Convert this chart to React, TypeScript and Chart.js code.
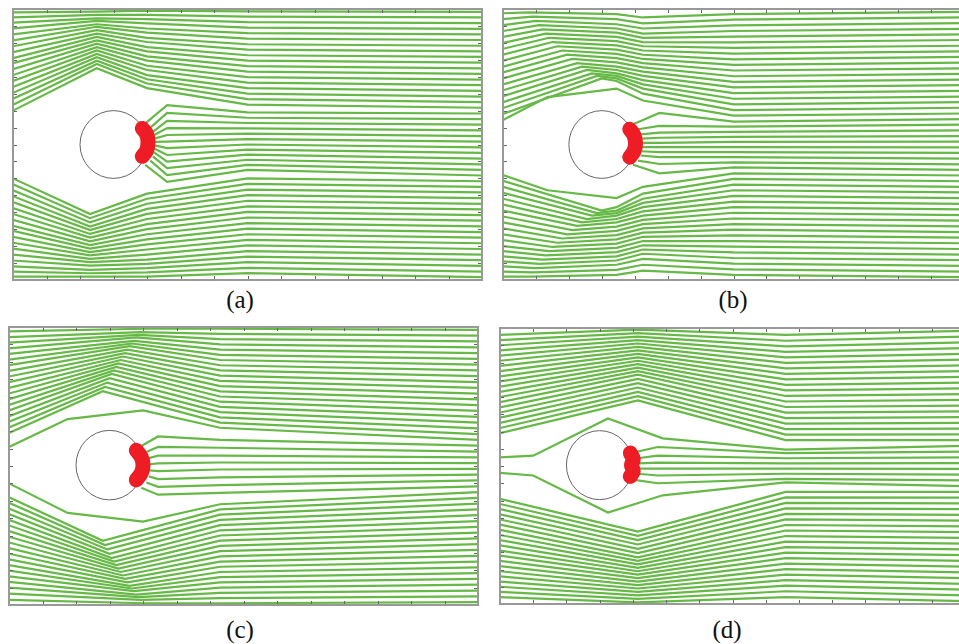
import React, { useEffect, useRef } from "react";
import { Chart, registerables } from "chart.js";
Chart.register(...registerables);

// ---------- shared ----------
const X_TICKS = [0, 2, 4, 6, 8, 10, 12, 14, 16, 18, 20, 22, 24, 26, 28];
const Y_TICKS = [0, 1, 2, 3, 4, 5, 6, 7, 8, 9, 10, 11, 12, 13, 14, 15, 16];
const GREEN = "#66b946";
const RED = "#ee1d25";
const CIRCLE_R = 2;

// ---------- panel (a) ----------
const A_TOP_XS = [0, 5.0, 8.0, 14, 28];
const A_TOP_Y0 = [10.0, 10.35, 10.7, 11.05, 11.4, 11.75, 12.1, 12.45, 12.8, 13.1, 13.45, 13.8, 14.15, 14.5, 14.85, 15.2, 15.5, 15.8];
const A_TOP_Y1 = [12.5, 12.75, 12.95, 13.15, 13.35, 13.55, 13.75, 13.95, 14.15, 14.35, 14.55, 14.75, 14.95, 15.1, 15.3, 15.45, 15.65, 15.85];
const A_TOP_Y2 = [11.33, 11.6, 11.85, 12.1, 12.4, 12.65, 12.95, 13.2, 13.5, 13.75, 14.05, 14.3, 14.6, 14.85, 15.15, 15.4, 15.65, 15.9];
const A_TOP_Y3 = [10.35, 10.68, 11.0, 11.33, 11.65, 11.98, 12.3, 12.63, 12.95, 13.27, 13.6, 13.92, 14.25, 14.57, 14.9, 15.22, 15.55, 15.86];
const A_TOP_Y4 = [10.17, 10.5, 10.83, 11.17, 11.5, 11.83, 12.17, 12.5, 12.83, 13.17, 13.5, 13.83, 14.17, 14.5, 14.83, 15.17, 15.5, 15.83];
const A_BOT_XS = [0, 4.6, 8.0, 14, 28];
const A_BOT_Y0 = [6.0, 5.65, 5.3, 4.95, 4.6, 4.25, 3.9, 3.55, 3.2, 2.9, 2.55, 2.2, 1.85, 1.5, 1.15, 0.8, 0.5, 0.2];
const A_BOT_Y1 = [3.9, 3.65, 3.4, 3.15, 2.95, 2.72, 2.5, 2.28, 2.06, 1.85, 1.65, 1.45, 1.25, 1.05, 0.85, 0.6, 0.4, 0.2];
const A_BOT_Y2 = [5.1, 4.8, 4.5, 4.2, 3.9, 3.6, 3.3, 3.0, 2.7, 2.4, 2.1, 1.8, 1.5, 1.2, 0.95, 0.7, 0.45, 0.2];
const A_BOT_Y3 = [6.0, 5.67, 5.34, 5.01, 4.68, 4.35, 4.02, 3.69, 3.36, 3.03, 2.7, 2.37, 2.04, 1.71, 1.38, 1.05, 0.72, 0.4];
const A_BOT_Y4 = [5.83, 5.5, 5.17, 4.83, 4.5, 4.17, 3.83, 3.5, 3.17, 2.83, 2.5, 2.17, 1.83, 1.5, 1.17, 0.83, 0.5, 0.17];
const A_FAN_X0 = [7.9, 8.2, 8.35, 8.4, 8.45, 8.45, 8.45, 8.45, 8.4, 8.35, 8.2, 7.9];
const A_FAN_XS = [A_FAN_X0, 9.2, 14, 28];
const A_FAN_Y0 = [9.25, 9.0, 8.75, 8.55, 8.35, 8.15, 7.95, 7.75, 7.55, 7.3, 7.05, 6.8];
const A_FAN_Y1 = [10.33, 9.86, 9.4, 8.97, 8.56, 8.17, 7.79, 7.38, 6.99, 6.61, 6.2, 5.8];
const A_FAN_Y2 = [9.9, 9.58, 9.27, 8.95, 8.64, 8.32, 8.0, 7.7, 7.4, 7.1, 6.8, 6.5];
const A_FAN_Y3 = [9.83, 9.5, 9.17, 8.83, 8.5, 8.17, 7.83, 7.5, 7.17, 6.83, 6.5, 6.17];
const A_BLOB_X = [7.72, 7.98, 8.06, 7.98, 7.72];
const A_BLOB_Y = [8.95, 8.6, 8.12, 7.65, 7.3];

// ---------- panel (b) ----------
const B_X1 = [2.7, 6.0, 5.7, 5.4, 5.1, 4.8, 4.5, 4.2, 3.9, 3.6, 3.3, 3.0, 2.8, 2.6, 2.4, 2.2, 2.0, 1.8, 1.6];
const B_XS = [0, B_X1, 6.9, 8.5, 14, 28];
const B_TOP_Y0 = [9.45, 9.8, 10.15, 10.5, 10.85, 11.2, 11.55, 11.9, 12.25, 12.6, 12.95, 13.3, 13.65, 14.0, 14.35, 14.7, 15.05, 15.4, 15.75];
const B_TOP_Y1 = [10.8, 11.9, 12.05, 12.2, 12.4, 12.6, 12.8, 13.05, 13.3, 13.55, 13.8, 14.05, 14.3, 14.55, 14.8, 15.05, 15.3, 15.55, 15.8];
const B_TOP_Y2 = [11.3, 11.75, 11.9, 12.05, 12.2, 12.4, 12.6, 12.85, 13.1, 13.35, 13.6, 13.85, 14.1, 14.35, 14.6, 14.85, 15.1, 15.4, 15.7];
const B_TOP_Y3 = [10.6, 11.0, 11.3, 11.55, 11.8, 12.05, 12.3, 12.55, 12.8, 13.05, 13.3, 13.55, 13.8, 14.05, 14.3, 14.55, 14.85, 15.15, 15.5];
const B_TOP_Y4 = [9.7, 10.03, 10.37, 10.7, 11.03, 11.37, 11.7, 12.03, 12.37, 12.7, 13.03, 13.37, 13.7, 14.03, 14.37, 14.7, 15.03, 15.37, 15.7];
const B_TOP_Y5 = [9.83, 10.17, 10.5, 10.83, 11.17, 11.5, 11.83, 12.17, 12.5, 12.83, 13.17, 13.5, 13.83, 14.17, 14.5, 14.83, 15.17, 15.5, 15.83];
const B_BOT_Y0 = [6.2, 5.85, 5.5, 5.15, 4.8, 4.45, 4.1, 3.75, 3.4, 3.05, 2.7, 2.35, 2.0, 1.7, 1.4, 1.1, 0.8, 0.5, 0.2];
const B_BOT_Y1 = [5.3, 4.1, 3.95, 3.8, 3.6, 3.4, 3.2, 2.95, 2.7, 2.45, 2.2, 1.95, 1.7, 1.45, 1.2, 0.95, 0.7, 0.45, 0.2];
const B_BOT_Y2 = [4.84, 4.3, 4.1, 3.95, 3.8, 3.6, 3.4, 3.15, 2.9, 2.65, 2.4, 2.15, 1.9, 1.65, 1.4, 1.15, 0.9, 0.6, 0.3];
const B_BOT_Y3 = [5.5, 5.1, 4.8, 4.55, 4.3, 4.05, 3.8, 3.55, 3.3, 3.05, 2.8, 2.55, 2.3, 2.05, 1.8, 1.55, 1.25, 0.9, 0.55];
const B_BOT_Y4 = [6.3, 5.97, 5.63, 5.3, 4.97, 4.63, 4.3, 3.97, 3.63, 3.3, 2.97, 2.63, 2.3, 1.97, 1.63, 1.3, 0.97, 0.63, 0.3];
const B_BOT_Y5 = [6.17, 5.83, 5.5, 5.17, 4.83, 4.5, 4.17, 3.83, 3.5, 3.17, 2.83, 2.5, 2.17, 1.83, 1.5, 1.17, 0.83, 0.5, 0.17];
const B_FAN_X0 = [7.9, 8.2, 8.35, 8.4, 8.45, 8.45, 8.4, 8.35, 8.2, 7.9];
const B_FAN_XS = [B_FAN_X0, 9.5, 14, 28];
const B_FAN_Y0 = [9.2, 8.9, 8.6, 8.35, 8.1, 7.85, 7.6, 7.35, 7.05, 6.8];
const B_FAN_Y1 = [9.86, 9.1, 8.7, 8.4, 8.1, 7.85, 7.55, 7.25, 6.85, 6.3];
const B_FAN_Y2 = [9.35, 9.05, 8.75, 8.45, 8.15, 7.85, 7.55, 7.25, 6.95, 6.65];
const B_FAN_Y3 = [9.5, 9.17, 8.83, 8.5, 8.17, 7.83, 7.5, 7.17, 6.83, 6.5];
const B_BLOB_X = [7.7, 7.95, 8.05, 7.95, 7.7];
const B_BLOB_Y = [8.9, 8.55, 8.05, 7.6, 7.25];

// ---------- panel (c) ----------
const C_X1 = [5.6, 5.73, 5.87, 6.0, 6.13, 6.27, 6.4, 6.53, 6.67, 6.8, 6.93, 7.07, 7.2, 7.33, 7.47, 7.6, 7.73, 7.87, 8.0];
const C_XS = [0, C_X1, 12.6, 28];
const C_TOP_Y0 = [9.9, 10.22, 10.55, 10.87, 11.2, 11.52, 11.85, 12.17, 12.5, 12.82, 13.15, 13.47, 13.8, 14.12, 14.45, 14.77, 15.1, 15.42, 15.75];
const C_TOP_Y1 = [12.3, 12.55, 12.8, 13.05, 13.3, 13.5, 13.7, 13.9, 14.1, 14.3, 14.5, 14.7, 14.9, 15.05, 15.2, 15.4, 15.55, 15.7, 15.9];
const C_TOP_Y2 = [10.5, 10.8, 11.1, 11.4, 11.7, 12.0, 12.3, 12.6, 12.9, 13.2, 13.5, 13.8, 14.1, 14.4, 14.7, 15.0, 15.3, 15.6, 15.9];
const C_TOP_Y3 = [9.83, 10.17, 10.5, 10.83, 11.17, 11.5, 11.83, 12.17, 12.5, 12.83, 13.17, 13.5, 13.83, 14.17, 14.5, 14.83, 15.17, 15.5, 15.83];
const C_BOT_Y0 = [6.2, 5.88, 5.55, 5.23, 4.9, 4.58, 4.25, 3.93, 3.6, 3.28, 2.95, 2.63, 2.3, 1.98, 1.65, 1.33, 1.0, 0.65, 0.3];
const C_BOT_Y1 = [3.7, 3.45, 3.2, 2.95, 2.7, 2.5, 2.3, 2.1, 1.9, 1.7, 1.5, 1.3, 1.1, 0.95, 0.8, 0.6, 0.45, 0.3, 0.1];
const C_BOT_Y2 = [5.5, 5.2, 4.9, 4.6, 4.3, 4.0, 3.7, 3.4, 3.1, 2.8, 2.5, 2.2, 1.9, 1.6, 1.3, 1.0, 0.7, 0.4, 0.1];
const C_BOT_Y3 = [6.17, 5.83, 5.5, 5.17, 4.83, 4.5, 4.17, 3.83, 3.5, 3.17, 2.83, 2.5, 2.17, 1.83, 1.5, 1.17, 0.83, 0.5, 0.17];
const C_FAN_X0 = [7.9, 8.2, 8.35, 8.4, 8.4, 8.35, 8.2, 7.9];
const C_FAN_XS = [C_FAN_X0, 8.9, 12.6, 28];
const C_FAN_Y0 = [9.15, 8.8, 8.45, 8.1, 7.75, 7.4, 7.05, 6.75];
const C_FAN_Y1 = [9.7, 9.1, 8.6, 8.15, 7.7, 7.25, 6.8, 6.35];
const C_FAN_Y2 = [9.5, 9.05, 8.6, 8.2, 7.8, 7.35, 6.9, 6.45];
const C_FAN_Y3 = [9.17, 8.83, 8.5, 8.17, 7.83, 7.5, 7.17, 6.83];
const C_EDGE_X = [0, 3.5, 8.0, 12.6, 28];
const C_EDGE_TOP = [9.1, 10.7, 11.2, 10.2, 9.5];
const C_EDGE_BOT = [7.0, 5.3, 4.8, 5.8, 6.5];
const C_BLOB_X = [7.6, 7.9, 8.0, 7.9, 7.6];
const C_BLOB_Y = [8.9, 8.5, 8.05, 7.6, 7.2];

// ---------- panel (d) ----------
const D_XS = [0, 8.3, 17.2, 28];
const D_TOP_Y0 = [9.9, 10.2, 10.5, 10.8, 11.1, 11.4, 11.7, 12.0, 12.3, 12.6, 12.9, 13.2, 13.5, 13.8, 14.1, 14.4, 14.7, 15.0, 15.3, 15.6];
const D_TOP_Y1 = [11.8, 12.05, 12.3, 12.55, 12.8, 13.05, 13.3, 13.5, 13.7, 13.9, 14.1, 14.3, 14.5, 14.7, 14.9, 15.1, 15.3, 15.5, 15.7, 15.9];
const D_TOP_Y2 = [9.5, 9.82, 10.14, 10.46, 10.78, 11.1, 11.42, 11.74, 12.06, 12.38, 12.7, 13.02, 13.34, 13.66, 13.98, 14.3, 14.62, 14.94, 15.26, 15.6];
const D_TOP_Y3 = [9.5, 9.83, 10.17, 10.5, 10.83, 11.17, 11.5, 11.83, 12.17, 12.5, 12.83, 13.17, 13.5, 13.83, 14.17, 14.5, 14.83, 15.17, 15.5, 15.83];
const D_BOT_Y0 = [6.1, 5.8, 5.5, 5.2, 4.9, 4.6, 4.3, 4.0, 3.7, 3.4, 3.1, 2.8, 2.5, 2.2, 1.9, 1.6, 1.3, 1.0, 0.7, 0.4];
const D_BOT_Y1 = [4.2, 3.95, 3.7, 3.45, 3.2, 2.95, 2.7, 2.5, 2.3, 2.1, 1.9, 1.7, 1.5, 1.3, 1.1, 0.9, 0.7, 0.5, 0.3, 0.1];
const D_BOT_Y2 = [6.5, 6.18, 5.86, 5.54, 5.22, 4.9, 4.58, 4.26, 3.94, 3.62, 3.3, 2.98, 2.66, 2.34, 2.02, 1.7, 1.38, 1.06, 0.74, 0.4];
const D_BOT_Y3 = [6.5, 6.17, 5.83, 5.5, 5.17, 4.83, 4.5, 4.17, 3.83, 3.5, 3.17, 2.83, 2.5, 2.17, 1.83, 1.5, 1.17, 0.83, 0.5, 0.17];
const D_FAN_X0 = [8.1, 8.3, 8.35, 8.35, 8.3, 8.1];
const D_FAN_XS = [D_FAN_X0, 9.5, 17.2, 28];
const D_FAN_Y0 = [8.8, 8.45, 8.15, 7.85, 7.55, 7.2];
const D_FAN_Y1 = [9.1, 8.6, 8.2, 7.85, 7.45, 7.0];
const D_FAN_Y2 = [8.75, 8.45, 8.15, 7.85, 7.55, 7.25];
const D_FAN_Y3 = [8.83, 8.5, 8.17, 7.83, 7.5, 7.17];
const D_EDGE_X = [0, 2.0, 6.5, 9.8, 17.2, 28];
const D_EDGE_TOP = [8.5, 8.6, 10.75, 9.6, 8.95, 9.17];
const D_EDGE_BOT = [7.6, 7.45, 5.3, 6.3, 7.05, 6.83];
const D_BLOB_X = [7.85, 8.02, 7.92, 8.02, 7.85];
const D_BLOB_Y = [8.75, 8.4, 8.05, 7.7, 7.4];

type Knot = number | number[];
interface Group { xs: Knot[]; ys: number[][] }
interface Panel {
  left: number; top: number; w: number; h: number;
  groups: Group[]; edges: { x: number[]; y: number[] }[];
  blobX: number[]; blobY: number[]; blobDots: number;
  cy: number; label: string; labelX: number; labelY: number;
}

const PANELS: Panel[] = [
  {
    left: 13, top: 9, w: 469, h: 271, cy: 8,
    groups: [
      { xs: A_TOP_XS, ys: [A_TOP_Y0, A_TOP_Y1, A_TOP_Y2, A_TOP_Y3, A_TOP_Y4] },
      { xs: A_BOT_XS, ys: [A_BOT_Y0, A_BOT_Y1, A_BOT_Y2, A_BOT_Y3, A_BOT_Y4] },
      { xs: A_FAN_XS, ys: [A_FAN_Y0, A_FAN_Y1, A_FAN_Y2, A_FAN_Y3] },
    ],
    edges: [], blobX: A_BLOB_X, blobY: A_BLOB_Y, blobDots: 0,
    label: "(a)", labelX: 240, labelY: 286,
  },
  {
    left: 503, top: 9, w: 461, h: 271, cy: 8,
    groups: [
      { xs: B_XS, ys: [B_TOP_Y0, B_TOP_Y1, B_TOP_Y2, B_TOP_Y3, B_TOP_Y4, B_TOP_Y5] },
      { xs: B_XS, ys: [B_BOT_Y0, B_BOT_Y1, B_BOT_Y2, B_BOT_Y3, B_BOT_Y4, B_BOT_Y5] },
      { xs: B_FAN_XS, ys: [B_FAN_Y0, B_FAN_Y1, B_FAN_Y2, B_FAN_Y3] },
    ],
    edges: [], blobX: B_BLOB_X, blobY: B_BLOB_Y, blobDots: 0,
    label: "(b)", labelX: 733, labelY: 286,
  },
  {
    left: 9, top: 327, w: 469, h: 278, cy: 8.05,
    groups: [
      { xs: C_XS, ys: [C_TOP_Y0, C_TOP_Y1, C_TOP_Y2, C_TOP_Y3] },
      { xs: C_XS, ys: [C_BOT_Y0, C_BOT_Y1, C_BOT_Y2, C_BOT_Y3] },
      { xs: C_FAN_XS, ys: [C_FAN_Y0, C_FAN_Y1, C_FAN_Y2, C_FAN_Y3] },
    ],
    edges: [{ x: C_EDGE_X, y: C_EDGE_TOP }, { x: C_EDGE_X, y: C_EDGE_BOT }],
    blobX: C_BLOB_X, blobY: C_BLOB_Y, blobDots: 0,
    label: "(c)", labelX: 240, labelY: 616,
  },
  {
    left: 499, top: 327, w: 467, h: 278, cy: 8.05,
    groups: [
      { xs: D_XS, ys: [D_TOP_Y0, D_TOP_Y1, D_TOP_Y2, D_TOP_Y3] },
      { xs: D_XS, ys: [D_BOT_Y0, D_BOT_Y1, D_BOT_Y2, D_BOT_Y3] },
      { xs: D_FAN_XS, ys: [D_FAN_Y0, D_FAN_Y1, D_FAN_Y2, D_FAN_Y3] },
    ],
    edges: [{ x: D_EDGE_X, y: D_EDGE_TOP }, { x: D_EDGE_X, y: D_EDGE_BOT }],
    blobX: D_BLOB_X, blobY: D_BLOB_Y, blobDots: 7,
    label: "(d)", labelX: 727, labelY: 616,
  },
];

const PAD = 6;

function buildLines(g: Group) {
  const n = g.ys[0].length;
  const out: { x: number; y: number }[][] = [];
  for (let i = 0; i < n; i++) {
    out.push(g.xs.map((xk, k) => ({ x: Array.isArray(xk) ? xk[i] : xk, y: g.ys[k][i] })));
  }
  return out;
}

function PanelChart({ p }: { p: Panel }) {
  const ref = useRef<HTMLCanvasElement | null>(null);
  useEffect(() => {
    if (!ref.current) return;
    const datasets: any[] = [];
    datasets.push({
      data: p.blobX.map((x, i) => ({ x, y: p.blobY[i] })),
      borderColor: RED, backgroundColor: RED, borderWidth: 15,
      pointRadius: p.blobDots, pointBorderWidth: 0,
      borderCapStyle: "round", borderJoinStyle: "round",
      tension: 0.4, order: -1,
    });
    const green = (pts: { x: number; y: number }[]) => ({
      data: pts, borderColor: GREEN, borderWidth: 2.2, pointRadius: 0,
      tension: 0, order: 1, borderJoinStyle: "miter",
    });
    for (const g of p.groups) for (const pts of buildLines(g)) datasets.push(green(pts));
    for (const e of p.edges) datasets.push(green(e.x.map((x, i) => ({ x, y: e.y[i] }))));

    const framePlugin = {
      id: "frame",
      beforeDatasetsDraw(chart: any) {
        const { ctx, scales } = chart;
        const xs = scales.x, ys = scales.y;
        const cx = xs.getPixelForValue(6);
        const cy = ys.getPixelForValue(p.cy);
        const rx = Math.abs(xs.getPixelForValue(6 + CIRCLE_R) - cx);
        const ry = Math.abs(ys.getPixelForValue(p.cy + CIRCLE_R) - cy);
        ctx.save();
        ctx.strokeStyle = "#666";
        ctx.lineWidth = 1;
        ctx.beginPath();
        ctx.ellipse(cx, cy, rx, ry, 0, 0, Math.PI * 2);
        ctx.stroke();
        ctx.restore();
      },
      afterDraw(chart: any) {
        const { ctx, chartArea: a, scales } = chart;
        const xs = scales.x, ys = scales.y;
        ctx.save();
        ctx.strokeStyle = "#666";
        ctx.lineWidth = 1;
        const TL = 4;
        ctx.beginPath();
        for (const v of X_TICKS) {
          const px = Math.round(xs.getPixelForValue(v)) + 0.5;
          ctx.moveTo(px, a.top); ctx.lineTo(px, a.top + TL);
          ctx.moveTo(px, a.bottom); ctx.lineTo(px, a.bottom - TL);
        }
        for (const v of Y_TICKS) {
          const py = Math.round(ys.getPixelForValue(v)) + 0.5;
          ctx.moveTo(a.left, py); ctx.lineTo(a.left + TL, py);
          ctx.moveTo(a.right, py); ctx.lineTo(a.right - TL, py);
        }
        ctx.stroke();
        ctx.strokeStyle = "#999";
        ctx.lineWidth = 2;
        ctx.strokeRect(a.left, a.top, a.right - a.left, a.bottom - a.top);
        ctx.restore();
      },
    };

    const chart = new Chart(ref.current, {
      type: "line",
      data: { datasets },
      options: {
        animation: false,
        responsive: false,
        maintainAspectRatio: false,
        devicePixelRatio: 1,
        events: [],
        layout: { padding: PAD },
        plugins: { legend: { display: false }, tooltip: { enabled: false } },
        scales: {
          x: { type: "linear", min: 0, max: 28, display: false },
          y: { type: "linear", min: 0, max: 16, display: false },
        },
      } as any,
      plugins: [framePlugin],
    });
    return () => chart.destroy();
  }, [p]);
  return (
    <canvas
      ref={ref}
      width={p.w + 2 * PAD}
      height={p.h + 2 * PAD}
      style={{ position: "absolute", left: p.left - PAD, top: p.top - PAD, width: p.w + 2 * PAD, height: p.h + 2 * PAD }}
    />
  );
}

export default function App() {
  return (
    <div style={{ position: "fixed", left: 0, top: 0, width: 959, height: 644, overflow: "hidden", background: "#fff" }}>
      {PANELS.map((p) => (
        <React.Fragment key={p.label}>
          <PanelChart p={p} />
          <div
            style={{
              position: "absolute", left: p.labelX, top: p.labelY, transform: "translateX(-50%)",
              fontFamily: "'Liberation Serif', 'DejaVu Serif', serif", fontSize: 25, lineHeight: "28px", color: "#111",
            }}
          >
            {p.label}
          </div>
        </React.Fragment>
      ))}
    </div>
  );
}
